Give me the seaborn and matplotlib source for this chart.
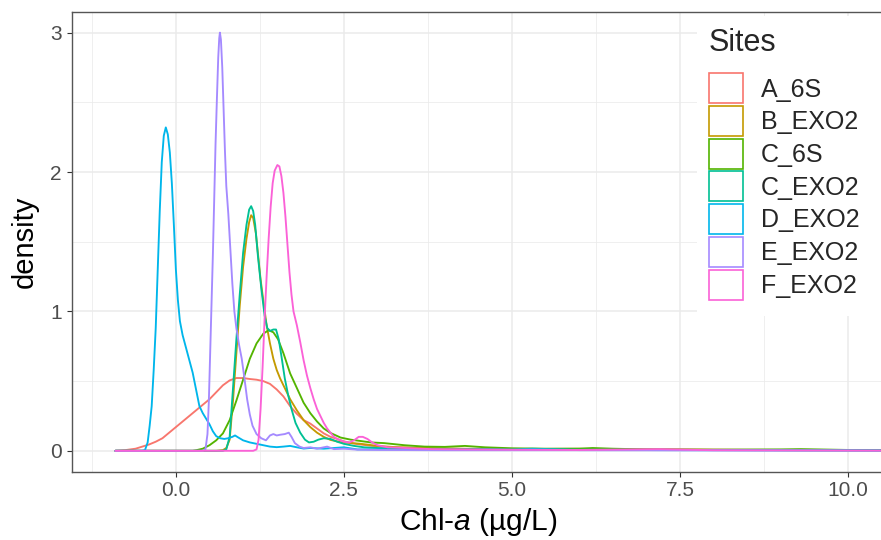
import numpy as np
import pandas as pd
import matplotlib
matplotlib.use("Agg")
import matplotlib.pyplot as plt
import seaborn as sns
from matplotlib.patches import Patch, Rectangle
from matplotlib.ticker import FixedLocator

# ---------------- data (density curves) ----------------
sites = ["A_6S", "B_EXO2", "C_6S", "C_EXO2", "D_EXO2", "E_EXO2", "F_EXO2"]
colors = ["#F8766D", "#C49A00", "#53B400", "#00C094", "#00B6EB", "#A58AFF", "#FB61D7"]

a6s_x = [-0.90, -0.75, -0.60, -0.50, -0.40, -0.30, -0.20, -0.10, 0.00, 0.10, 0.20, 0.30,
         0.40, 0.50, 0.60, 0.70, 0.80, 0.90, 1.00, 1.10, 1.20, 1.30, 1.40, 1.50, 1.60,
         1.70, 1.80, 1.90, 2.00, 2.10, 2.20, 2.30, 2.40, 2.50, 2.60, 2.70, 2.90, 3.10,
         3.60, 4.00, 5.00, 6.00, 7.00, 8.00, 9.00, 10.00, 11.00, 12.00]
a6s_y = [0.000, 0.005, 0.015, 0.030, 0.045, 0.065, 0.090, 0.130, 0.170, 0.210, 0.250, 0.290,
         0.330, 0.370, 0.420, 0.470, 0.505, 0.522, 0.522, 0.515, 0.510, 0.500, 0.480, 0.440, 0.390,
         0.320, 0.265, 0.220, 0.195, 0.160, 0.125, 0.100, 0.085, 0.068, 0.056, 0.048, 0.036, 0.028,
         0.020, 0.015, 0.010, 0.012, 0.010, 0.008, 0.006, 0.005, 0.003, 0.000]

b_exo2_x = [-0.90, 0.60, 0.70, 0.75, 0.80, 0.85, 0.90, 0.95, 1.00, 1.05, 1.09, 1.12, 1.15,
            1.19, 1.22, 1.26, 1.30, 1.35, 1.40, 1.45, 1.50, 1.55, 1.62, 1.70, 1.80, 1.90,
            2.00, 2.10, 2.20, 2.30, 2.45, 2.60, 2.75, 3.00, 3.30, 3.70, 4.20, 5.00, 6.00,
            6.50, 7.50, 9.00, 10.50, 12.00]
b_exo2_y = [0.000, 0.000, 0.005, 0.020, 0.080, 0.360, 0.700, 1.040, 1.320, 1.520, 1.640, 1.690, 1.670,
            1.560, 1.420, 1.230, 1.080, 0.900, 0.770, 0.660, 0.580, 0.520, 0.450, 0.370, 0.290, 0.220,
            0.170, 0.130, 0.100, 0.078, 0.062, 0.056, 0.050, 0.035, 0.025, 0.020, 0.015, 0.012, 0.015,
            0.010, 0.008, 0.005, 0.003, 0.000]

c_6s_x = [-0.90, 0.25, 0.31, 0.40, 0.50, 0.60, 0.70, 0.80, 0.90, 1.00, 1.10, 1.20, 1.30,
          1.38, 1.45, 1.52, 1.60, 1.70, 1.80, 1.90, 2.00, 2.10, 2.20, 2.30, 2.45, 2.60,
          2.75, 2.90, 3.10, 3.40, 3.70, 4.00, 4.30, 4.60, 5.00, 5.50, 6.00, 6.20, 6.50,
          7.00, 8.00, 9.00, 9.30, 10.00, 12.00]
c_6s_y = [0.000, 0.000, 0.005, 0.015, 0.040, 0.075, 0.125, 0.220, 0.360, 0.510, 0.660, 0.770, 0.840,
          0.865, 0.850, 0.800, 0.700, 0.555, 0.450, 0.345, 0.270, 0.210, 0.160, 0.128, 0.095, 0.080,
          0.070, 0.060, 0.055, 0.040, 0.030, 0.028, 0.035, 0.025, 0.018, 0.015, 0.015, 0.020, 0.015,
          0.010, 0.008, 0.010, 0.012, 0.006, 0.000]

c_exo2_x = [-0.90, 0.70, 0.75, 0.80, 0.85, 0.90, 0.95, 1.00, 1.05, 1.09, 1.12, 1.15, 1.18,
            1.22, 1.27, 1.32, 1.36, 1.40, 1.45, 1.49, 1.53, 1.57, 1.62, 1.67, 1.72, 1.78,
            1.85, 1.92, 1.98, 2.05, 2.12, 2.20, 2.30, 2.40, 2.50, 2.65, 2.80, 3.00, 3.50,
            4.00, 5.00, 5.30, 6.00, 7.50, 9.00, 12.00]
c_exo2_y = [0.000, 0.000, 0.010, 0.100, 0.450, 0.800, 1.120, 1.420, 1.620, 1.730, 1.755, 1.720, 1.620,
            1.400, 1.170, 0.970, 0.880, 0.860, 0.870, 0.870, 0.800, 0.680, 0.520, 0.400, 0.300, 0.200,
            0.130, 0.080, 0.060, 0.065, 0.080, 0.090, 0.085, 0.065, 0.050, 0.035, 0.025, 0.020, 0.012,
            0.010, 0.010, 0.015, 0.008, 0.006, 0.004, 0.000]

d_exo2_x = [-0.90, -0.50, -0.46, -0.42, -0.39, -0.36, -0.33, -0.30, -0.27, -0.24, -0.21, -0.18,
            -0.15, -0.12, -0.09, -0.06, -0.03, 0.00, 0.03, 0.06, 0.10, 0.15, 0.20, 0.25, 0.30,
            0.35, 0.40, 0.45, 0.50, 0.55, 0.60, 0.66, 0.72, 0.78, 0.84, 0.88, 0.93, 1.00, 1.10,
            1.20, 1.30, 1.40, 1.50, 1.60, 1.70, 1.80, 1.90, 2.00, 2.20, 2.50, 2.70, 3.00, 3.50,
            4.00, 4.60, 5.00, 5.30, 6.00, 7.00, 8.00, 10.00, 12.00]
d_exo2_y = [0.000, 0.000, 0.005, 0.060, 0.180, 0.320, 0.580, 0.880, 1.300, 1.720, 2.070, 2.260,
            2.320, 2.270, 2.140, 1.920, 1.620, 1.300, 1.080, 0.930, 0.830, 0.740, 0.650, 0.560, 0.440,
            0.320, 0.270, 0.230, 0.190, 0.140, 0.105, 0.090, 0.085, 0.090, 0.100, 0.110, 0.095, 0.075, 0.060,
            0.050, 0.040, 0.030, 0.026, 0.030, 0.035, 0.025, 0.016, 0.020, 0.015, 0.025, 0.010, 0.010, 0.008,
            0.006, 0.010, 0.006, 0.012, 0.005, 0.005, 0.004, 0.003, 0.000]

e_exo2_x = [-0.90, 0.40, 0.44, 0.47, 0.49, 0.51, 0.53, 0.55, 0.57, 0.59, 0.61, 0.63, 0.645,
            0.655, 0.67, 0.69, 0.71, 0.73, 0.75, 0.78, 0.81, 0.84, 0.87, 0.90, 0.94, 0.98,
            1.02, 1.06, 1.10, 1.14, 1.20, 1.27, 1.34, 1.40, 1.45, 1.50, 1.55, 1.62, 1.68,
            1.72, 1.77, 1.84, 1.90, 2.00, 2.10, 2.25, 2.35, 2.50, 2.70, 3.00, 4.00, 6.00,
            8.00, 12.00]
e_exo2_y = [0.000, 0.000, 0.010, 0.120, 0.350, 0.700, 1.050, 1.400, 1.800, 2.200, 2.520, 2.820, 2.960,
            3.000, 2.950, 2.750, 2.450, 2.150, 1.900, 1.700, 1.450, 1.200, 1.000, 0.880, 0.760, 0.660,
            0.520, 0.370, 0.260, 0.180, 0.120, 0.090, 0.075, 0.110, 0.120, 0.110, 0.115, 0.120, 0.130,
            0.100, 0.055, 0.030, 0.020, 0.025, 0.015, 0.030, 0.012, 0.015, 0.008, 0.006, 0.004, 0.004,
            0.003, 0.000]

f_exo2_x = [-0.90, 1.15, 1.20, 1.23, 1.26, 1.29, 1.32, 1.35, 1.38, 1.41, 1.44, 1.47, 1.51,
            1.54, 1.57, 1.60, 1.63, 1.66, 1.69, 1.72, 1.75, 1.80, 1.85, 1.90, 1.95, 2.00,
            2.05, 2.10, 2.15, 2.20, 2.25, 2.30, 2.35, 2.42, 2.50, 2.58, 2.65, 2.72, 2.78,
            2.85, 2.92, 3.00, 3.15, 3.40, 3.80, 4.30, 5.00, 6.00, 7.20, 8.00, 12.00]
f_exo2_y = [0.000, 0.000, 0.010, 0.080, 0.300, 0.600, 0.950, 1.250, 1.520, 1.750, 1.920, 2.010, 2.050,
            2.040, 1.970, 1.850, 1.680, 1.480, 1.280, 1.120, 1.000, 0.900, 0.780, 0.650, 0.540, 0.450,
            0.370, 0.300, 0.250, 0.200, 0.160, 0.130, 0.100, 0.080, 0.065, 0.060, 0.075, 0.100, 0.100,
            0.085, 0.060, 0.040, 0.025, 0.020, 0.012, 0.010, 0.008, 0.006, 0.012, 0.004, 0.000]

x_ticks = [0, 2.5, 5, 7.5, 10]
x_tick_labels = ["0.0", "2.5", "5.0", "7.5", "10.0"]
y_ticks = [0, 1, 2, 3]
y_tick_labels = ["0", "1", "2", "3"]

series_x = [a6s_x, b_exo2_x, c_6s_x, c_exo2_x, d_exo2_x, e_exo2_x, f_exo2_x]
series_y = [a6s_y, b_exo2_y, c_6s_y, c_exo2_y, d_exo2_y, e_exo2_y, f_exo2_y]

df = pd.concat(
    [pd.DataFrame({"x": xs, "density": ys, "site": s})
     for s, xs, ys in zip(sites, series_x, series_y)],
    ignore_index=True,
)

# ---------------- style ----------------
sns.set_style("white")
plt.rcParams["font.family"] = ["Liberation Sans", "DejaVu Sans"]
plt.rcParams["mathtext.fontset"] = "custom"
plt.rcParams["mathtext.rm"] = "Liberation Sans"
plt.rcParams["mathtext.it"] = "Liberation Sans:italic"

W, H = 881, 540
fig = plt.figure(figsize=(W / 100, H / 100), dpi=100)
L, R, T, B = 71.7, 885.0, 11.7, 471.7
ax = fig.add_axes([L / W, (H - B) / H, (R - L) / W, (B - T) / H])


def fx(px):
    return (px - L) / (R - L)


def fy(py):
    return (B - py) / (B - T)


sns.lineplot(data=df, x="x", y="density", hue="site", hue_order=sites,
             palette=colors, estimator=None, linewidth=1.35, legend=False, ax=ax)

ax.set_xlim(-1.55, 10.55)
ax.set_ylim(-0.15, 3.15)
ax.set_xticks(x_ticks)
ax.set_xticklabels(x_tick_labels)
ax.set_yticks(y_ticks)
ax.set_yticklabels(y_tick_labels)
ax.xaxis.set_minor_locator(FixedLocator([-1.25, 1.25, 3.75, 6.25, 8.75]))
ax.yaxis.set_minor_locator(FixedLocator([0.5, 1.5, 2.5]))
ax.set_axisbelow(True)
ax.grid(which="major", color="#EBEBEB", linewidth=1.1)
ax.grid(which="minor", color="#EBEBEB", linewidth=0.55)
ax.tick_params(which="major", direction="out", length=3.5, width=0.8, color="#333333",
               labelsize=15, labelcolor="#4D4D4D", pad=3.5, bottom=True, left=True)
ax.tick_params(which="minor", length=0)
for sp in ax.spines.values():
    sp.set_color("#555555")
    sp.set_linewidth(1.0)

ax.set_xlabel("Chl-$\\mathit{a}$ (\u00b5g/L)", fontsize=21.5, color="black")
ax.set_ylabel("density", fontsize=21, color="black")
ax.xaxis.set_label_coords(0.5, fy(506))
ax.yaxis.set_label_coords(fx(39), 0.5)

# legend background (white box over the panel)
ax.add_patch(Rectangle((fx(697), fy(316)), fx(900) - fx(697), fy(16) - fy(316),
                       transform=ax.transAxes, facecolor="white", edgecolor="none", zorder=4))

handles = [Patch(facecolor="white", edgecolor=c, linewidth=1.2, label=s)
           for s, c in zip(sites, colors)]
leg = ax.legend(handles=handles, title="Sites", loc="upper left",
                bbox_to_anchor=(fx(709), fy(28)), bbox_transform=ax.transAxes,
                frameon=False, borderpad=0, borderaxespad=0,
                fontsize=18, title_fontsize=22,
                handlelength=1.36, handleheight=1.47, labelspacing=0.108,
                handletextpad=0.72, alignment="left")
leg.set_zorder(5)
leg._legend_box.sep = 11.0

fig.savefig("out.png", dpi=100)
